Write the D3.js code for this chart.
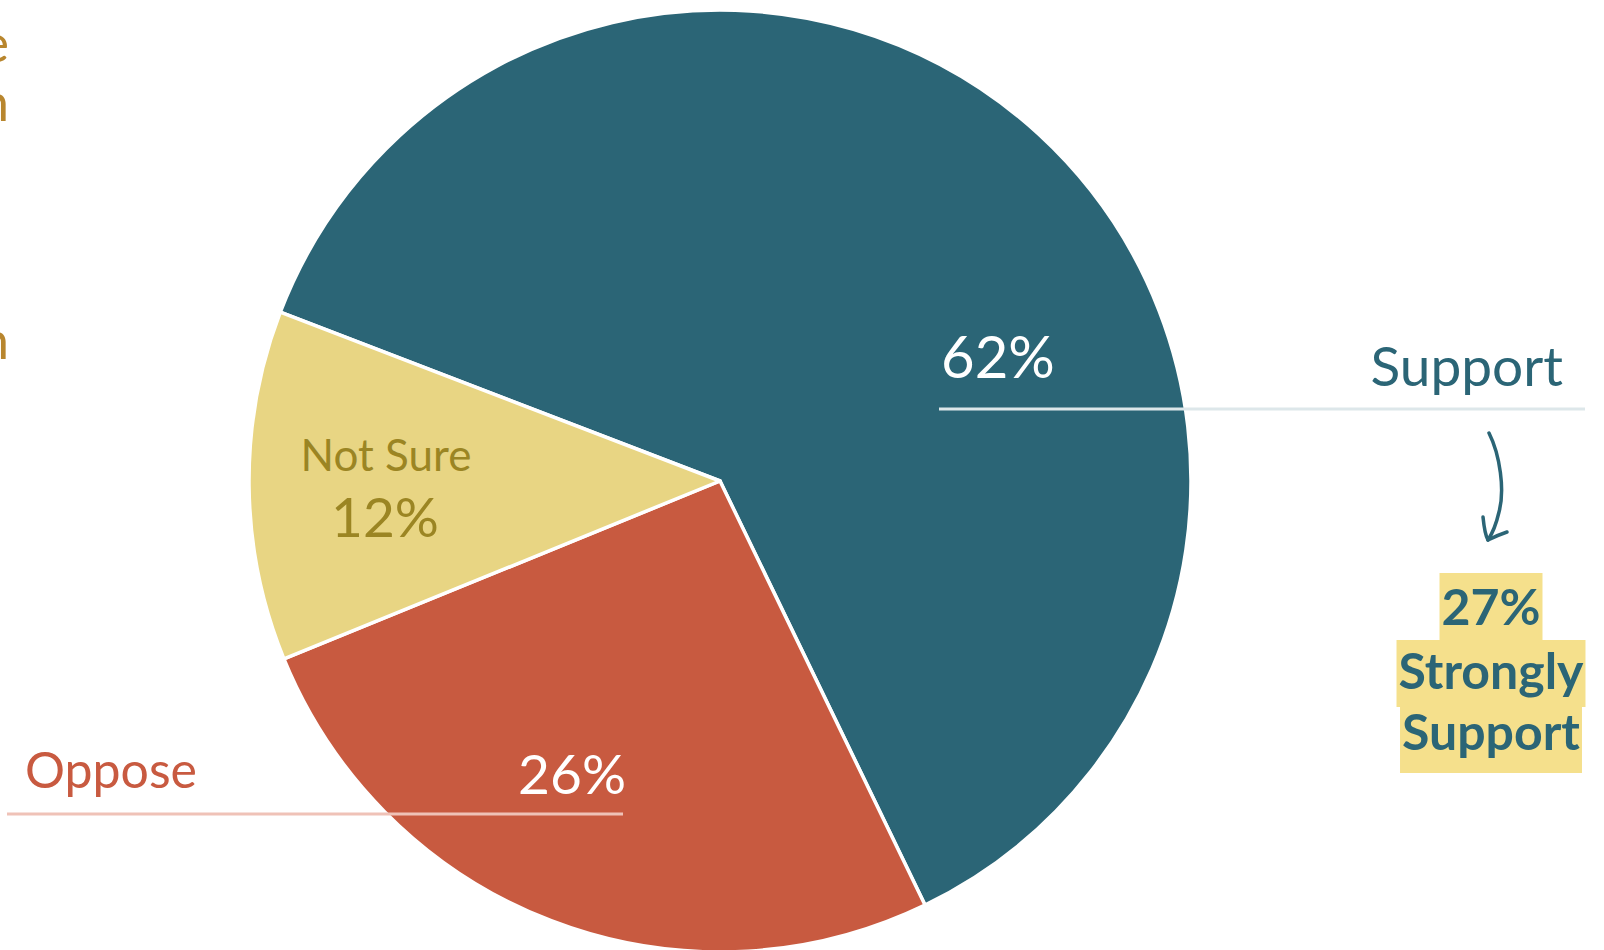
<!DOCTYPE html>
<html>
<head>
<meta charset="utf-8">
<script src="https://cdn.jsdelivr.net/npm/d3@7"></script>
<style>
  html, body { margin: 0; padding: 0; background: #ffffff; }
  svg { display: block; }
  text { font-family: Lato, "Open Sans", sans-serif; }
</style>
</head>
<body>
<svg id="chart" width="1604" height="950"></svg>
<script>
// Survey answers, share of respondents (%)
const categories = ["Support", "Oppose", "Not Sure"];
const values = [62, 26, 12];
const strongSupport = 27;
const sliceColors = ["#2b6576", "#c85a40", "#e8d583"];

// Trailing letters of the side note that runs off the left edge
const sideNoteLines = ["e", "n", "", "", "", "n"];

const W = 1604, H = 950;
const cx = 720, cy = 481, R = 471;
const deg = Math.PI / 180;

const svg = d3.select("#chart");

const pie = d3.pie()
  .sort(null)
  .value(d => d.value)
  .startAngle(-69 * deg)
  .endAngle(291 * deg);

const arc = d3.arc().innerRadius(0).outerRadius(R);

const data = categories.map((c, i) => ({ name: c, value: values[i], color: sliceColors[i] }));
const arcs = pie(data);

const g = svg.append("g").attr("transform", `translate(${cx},${cy})`);
g.selectAll("path.slice")
  .data(arcs)
  .join("path")
  .attr("class", "slice")
  .attr("d", arc)
  .attr("fill", d => d.data.color)
  .attr("stroke", "#ffffff")
  .attr("stroke-width", 3.5)
  .attr("stroke-linejoin", "round");

// Side note, cut by the left edge
svg.append("g")
  .selectAll("text")
  .data(sideNoteLines)
  .join("text")
  .attr("x", 9)
  .attr("y", (d, i) => 62 + i * 59.4)
  .attr("text-anchor", "end")
  .attr("font-size", 52)
  .attr("fill", "#b8862e")
  .text(d => d);

// Support: leader line, value and name
svg.append("line")
  .attr("x1", 939).attr("x2", 1585)
  .attr("y1", 409).attr("y2", 409)
  .attr("stroke", "#dde7ea").attr("stroke-width", 3);
svg.append("text")
  .attr("x", 941).attr("y", 378)
  .attr("font-size", 58)
  .attr("fill", "#ffffff")
  .text(values[0] + "%");
svg.append("text")
  .attr("x", 1563).attr("y", 386)
  .attr("text-anchor", "end")
  .attr("font-size", 55)
  .attr("fill", "#2b6576")
  .text(categories[0]);

// Oppose: leader line, value and name
svg.append("line")
  .attr("x1", 7).attr("x2", 623)
  .attr("y1", 814).attr("y2", 814)
  .attr("stroke", "#efc2b7").attr("stroke-width", 3);
svg.append("text")
  .attr("x", 626).attr("y", 794)
  .attr("text-anchor", "end")
  .attr("font-size", 55)
  .attr("fill", "#ffffff")
  .text(values[1] + "%");
svg.append("text")
  .attr("x", 25).attr("y", 788)
  .attr("font-size", 50)
  .attr("fill", "#c85a40")
  .text(categories[1]);

// Not Sure: name and value inside the slice
svg.append("text")
  .attr("x", 386).attr("y", 471)
  .attr("text-anchor", "middle")
  .attr("font-size", 44)
  .attr("fill", "#9b8523")
  .text(categories[2]);
svg.append("text")
  .attr("x", 385).attr("y", 537)
  .attr("text-anchor", "middle")
  .attr("font-size", 55)
  .attr("fill", "#9b8523")
  .text(values[2] + "%");

// Hand-drawn arrow pointing down to the callout
const arrow = svg.append("g")
  .attr("fill", "none")
  .attr("stroke", "#2b6576")
  .attr("stroke-linecap", "round")
  .attr("stroke-linejoin", "round");
arrow.append("path")
  .attr("d", "M1489,433 C1500,455 1505,490 1499,512 C1496,525 1492,534 1488,540")
  .attr("stroke-width", 3.5);
arrow.append("path")
  .attr("d", "M1483,517 C1484,527 1485,535 1488,540 C1494,537 1501,534 1507,532")
  .attr("stroke-width", 3.5);

// Highlighted callout: strongly support
const callout = [strongSupport + "%", "Strongly", "Support"];
const calloutX = 1491;
const calloutBase = [625, 689, 750];
const cg = svg.append("g");
const bgG = cg.append("g");
const txt = cg.selectAll("text")
  .data(callout)
  .join("text")
  .attr("x", calloutX)
  .attr("y", (d, i) => calloutBase[i])
  .attr("text-anchor", "middle")
  .attr("font-size", 50)
  .attr("font-weight", 700)
  .attr("fill", "#2b6576")
  .text(d => d);
const boxTop = [573, 640, 707];
const boxBottom = [640, 707, 773];
txt.each(function(d, i) {
  const w = this.getComputedTextLength();
  bgG.append("rect")
    .attr("x", calloutX - w / 2 - 2)
    .attr("y", boxTop[i])
    .attr("width", w + 4)
    .attr("height", boxBottom[i] - boxTop[i])
    .attr("fill", "#f5e08c");
});
</script>
</body>
</html>
